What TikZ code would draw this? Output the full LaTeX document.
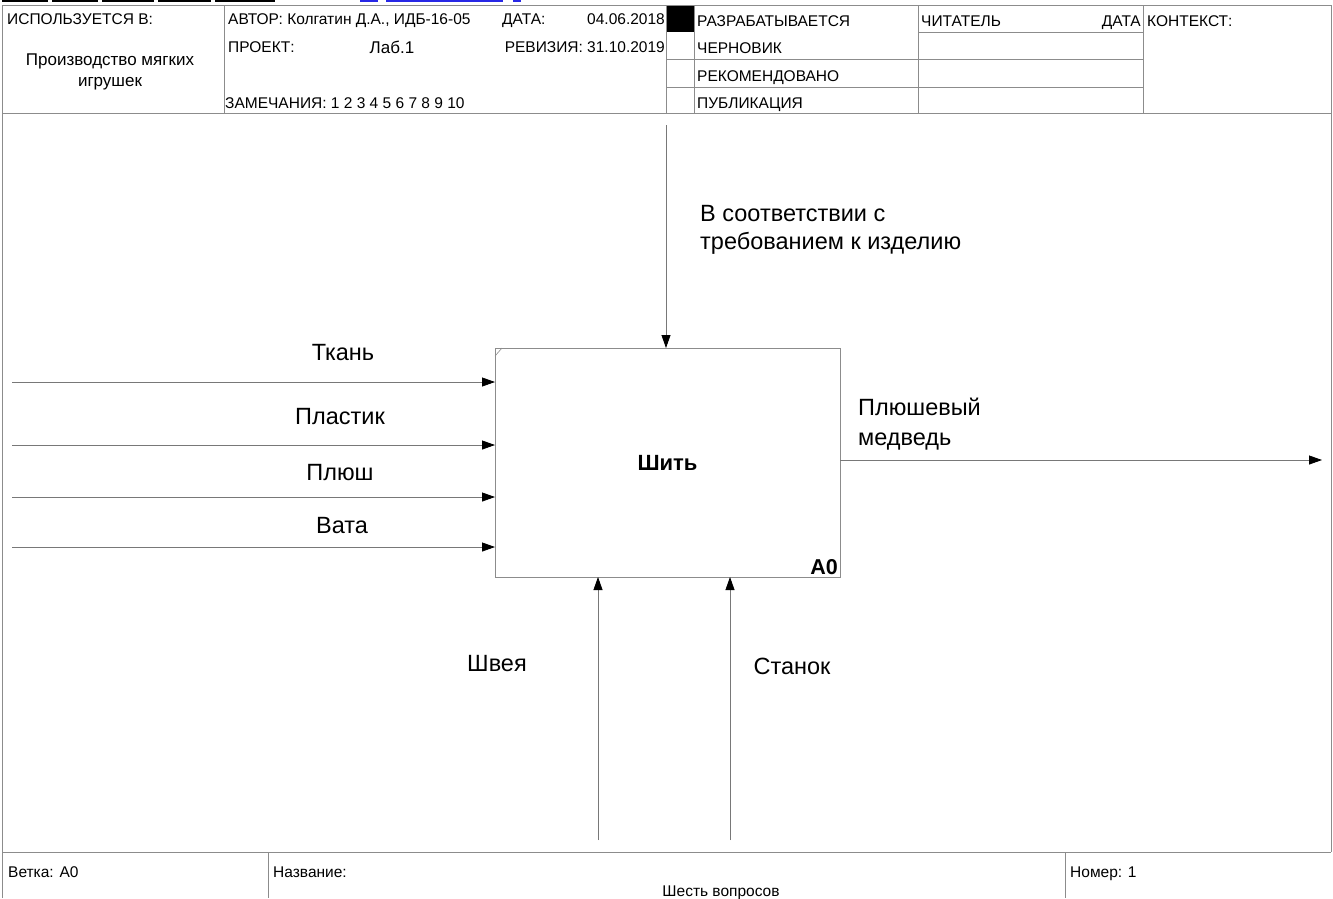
\documentclass[tikz,border=0pt]{standalone}
\usepackage{fontspec}
\setmainfont{Liberation Sans}
\usetikzlibrary{arrows.meta, positioning, calc}
\definecolor{framegray}{RGB}{140, 140, 140}
\definecolor{linegray}{RGB}{120, 120, 120}
\definecolor{linkblue}{RGB}{40, 40, 230}

\tikzset{
  frameline/.style={draw=framegray, line width=1pt},
  flowarrow/.style={draw=linegray, line width=0.8pt, -{Triangle[length=13pt, width=9pt, color=black]}},
  hdr/.style={anchor=base west, inner sep=0pt, font=\fontsize{15.5}{17}\selectfont},
  lbl/.style={anchor=base, inner sep=0pt, font=\fontsize{23.5}{26}\selectfont},
  actbox/.style={draw=framegray, line width=1pt, minimum width=345pt, minimum height=229pt,
    inner sep=0pt, outer sep=0pt, font=\bfseries\fontsize{22}{24}\selectfont}
}

\begin{document}
\begin{tikzpicture}[x=1pt, y=-1pt]
  \useasboundingbox (0,0) rectangle (1333,898);
  \fill[white] (0,0) rectangle (1333,898);

  % clipped link strip at the very top
  \foreach \a/\b in {2/48, 52/98, 102/154, 158/211, 215/275}
    \fill[black] (\a,0) rectangle (\b,1.5);
  \foreach \a/\b in {360/378, 386/503, 513/521}
    \fill[linkblue] (\a,0) rectangle (\b,1.5);

  % form frame
  \draw[frameline] (2,898) -- (2,5) -- (1331,5) -- (1331,852);
  \draw[frameline] (2,113) -- (1331,113);
  \draw[frameline] (2,852) -- (1331,852);
  \foreach \x in {224, 666, 694, 918, 1143}
    \draw[frameline] (\x,5) -- (\x,113);
  \draw[frameline] (918,32) -- (1143,32);
  \foreach \y in {59, 87}
    \draw[frameline] (666,\y) -- (1143,\y);
  \foreach \x in {268, 1065}
    \draw[frameline] (\x,852) -- (\x,898);
  \fill[black] (666.5,5.5) rectangle (694,32);

  % header texts
  \node[hdr] (usedin) at (7,24) {ИСПОЛЬЗУЕТСЯ В:};
  \node[hdr, anchor=base, font=\fontsize{17}{19}\selectfont] (usedname) at (110,65) {Производство мягких};
  \node[hdr, anchor=base, font=\fontsize{17}{19}\selectfont] (usedname2) at (110,86) {игрушек};
  \node[hdr] (author) at (228,24) {АВТОР: Колгатин Д.А., ИДБ-16-05};
  \node[hdr] (project) at (228,52) {ПРОЕКТ:};
  \node[hdr, anchor=base, font=\fontsize{17}{19}\selectfont] (projname) at (392,53) {Лаб.1};
  \node[hdr] (notes) at (225,108) {ЗАМЕЧАНИЯ: 1 2 3 4 5 6 7 8 9 10};
  \node[hdr] (date) at (502,24) {ДАТА:};
  \node[hdr, anchor=base east] (dateval) at (665,24) {04.06.2018};
  \node[hdr, anchor=base east] (rev) at (665,52) {РЕВИЗИЯ: 31.10.2019};
  \node[hdr] (st1) at (697,26) {РАЗРАБАТЫВАЕТСЯ};
  \node[hdr] (st2) at (697,53) {ЧЕРНОВИК};
  \node[hdr] (st3) at (697,81) {РЕКОМЕНДОВАНО};
  \node[hdr] (st4) at (697,108) {ПУБЛИКАЦИЯ};
  \node[hdr] (reader) at (921,26) {ЧИТАТЕЛЬ};
  \node[hdr, anchor=base east] (readdate) at (1141,26) {ДАТА};
  \node[hdr] (context) at (1147,26) {КОНТЕКСТ:};

  % footer texts
  \node[hdr] (branch) at (8,877) {Ветка: A0};
  \node[hdr] (title) at (273,877) {Название:};
  \node[hdr, anchor=base] (titleval) at (721,896) {Шесть вопросов};
  \node[hdr] (number) at (1070,877) {Номер: 1};

  % activity
  \node[actbox] (sew) at (667.5,462.5) {Шить};
  \node[anchor=south east, inner sep=2pt, font=\bfseries\fontsize{21.5}{24}\selectfont] (sewid) at (sew.south east) {A0};
  \draw[framegray, line width=0.6pt] ($(sew.north west)+(0,8)$) -- ($(sew.north west)+(7,0)$);

  % inputs
  \coordinate (in1) at (12,382);
  \coordinate (in2) at (12,445);
  \coordinate (in3) at (12,497);
  \coordinate (in4) at (12,547);
  \foreach \i in {1,...,4}
    \draw[flowarrow] (in\i) -- (in\i -| sew.west);
  \node[lbl] (fabric) at (343,360) {Ткань};
  \node[lbl] (plastic) at (340,424) {Пластик};
  \node[lbl] (plush) at (340,480) {Плюш};
  \node[lbl] (wadding) at (342,533) {Вата};

  % control
  \coordinate (ctrl) at (666,125);
  \draw[flowarrow] (ctrl) -- (ctrl |- sew.north);
  \node[lbl, anchor=base west] (rule1) at (700,221) {В соответствии с};
  \node[lbl, anchor=base west] (rule2) at (700,249) {требованием к изделию};

  % output
  \coordinate (out) at (1322,460);
  \draw[flowarrow] (out -| sew.east) -- (out);
  \node[lbl, anchor=base west] (bear1) at (858,415) {Плюшевый};
  \node[lbl, anchor=base west] (bear2) at (858,445) {медведь};

  % mechanisms
  \coordinate (mech1) at (598,840);
  \coordinate (mech2) at (730,840);
  \draw[flowarrow] (mech1) -- (mech1 |- sew.south);
  \draw[flowarrow] (mech2) -- (mech2 |- sew.south);
  \node[lbl] (seamstress) at (497,671) {Швея};
  \node[lbl] (machine) at (792,674) {Станок};
\end{tikzpicture}
\end{document}
